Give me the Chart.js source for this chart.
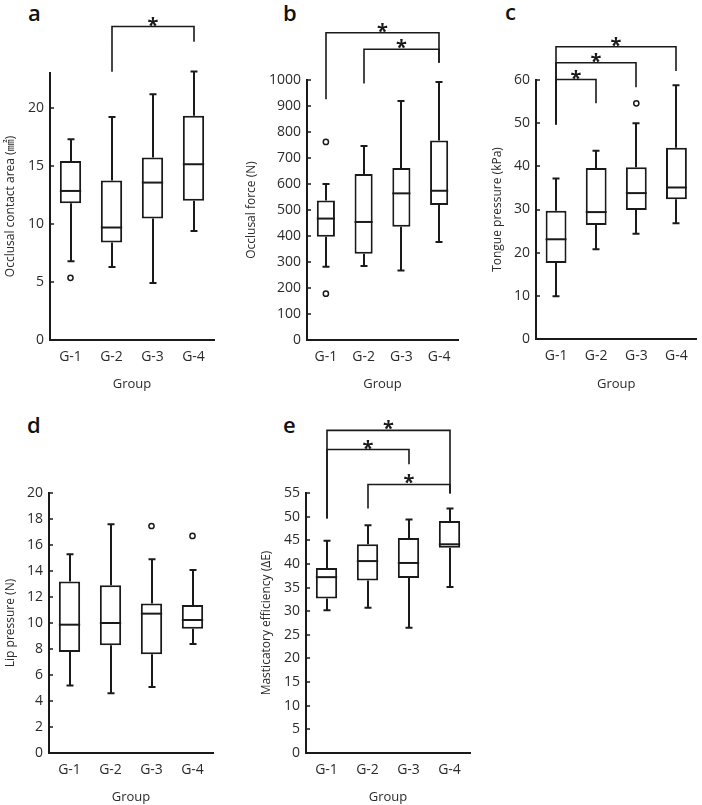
<!DOCTYPE html>
<html>
<head>
<meta charset="utf-8">
<script src="https://cdn.jsdelivr.net/npm/chart.js@4.4.1/dist/chart.umd.min.js"></script>
<style>
  body { margin: 0; background: #fff; width: 702px; height: 805px; position: relative; overflow: hidden; font-family: 'Open Sans', sans-serif; }
  canvas { position: absolute; }
  .lbl { position: absolute; font-size: 22px; font-weight: 600; line-height: 22px; color: #111; }
</style>
</head>
<body>
<div class="lbl" style="left:28px;top:1px">a</div>
<div class="lbl" style="left:283px;top:1px">b</div>
<div class="lbl" style="left:505px;top:0px">c</div>
<div class="lbl" style="left:27px;top:413px">d</div>
<div class="lbl" style="left:283px;top:413px">e</div>

<canvas id="chartA" width="233" height="395" style="left:0;top:0"></canvas>
<canvas id="chartB" width="232" height="395" style="left:233px;top:0"></canvas>
<canvas id="chartC" width="237" height="395" style="left:465px;top:0"></canvas>
<canvas id="chartD" width="233" height="405" style="left:0;top:400px"></canvas>
<canvas id="chartE" width="247" height="405" style="left:233px;top:400px"></canvas>

<script>
const groups = ['G-1', 'G-2', 'G-3', 'G-4'];

// per group: [min, q1, median, q3, max]
const contactArea = [[6.78, 11.77, 12.84, 15.43, 17.3], [6.29, 8.39, 9.69, 13.73, 19.2], [4.9, 10.47, 13.56, 15.72, 21.17], [9.4, 12.0, 15.14, 19.32, 23.13]];
const occlusalForce = [[282, 397, 467, 537, 600], [285, 332, 454, 638, 746], [267, 436, 564, 662, 919], [377, 519, 574, 767, 992]];
const tonguePressure = [[9.9, 17.6, 23.1, 29.7, 37.2], [20.8, 26.4, 29.4, 39.6, 43.6], [24.4, 29.9, 33.8, 39.8, 50.0], [26.8, 32.4, 35.1, 44.3, 58.8]];
const lipPressure = [[5.2, 7.77, 9.87, 13.2, 15.28], [4.6, 8.28, 10.0, 12.9, 17.6], [5.08, 7.59, 10.72, 11.5, 14.9], [8.38, 9.56, 10.23, 11.38, 14.08]];
const masticatory = [[30.2, 32.7, 37.2, 39.15, 44.9], [30.7, 36.5, 40.6, 44.15, 48.2], [26.5, 37.0, 40.2, 45.5, 49.4], [35.1, 43.4, 44.15, 49.1, 51.7]];

// outliers: [group index, value]
const contactOutliers = [[0, 5.36]];
const forceOutliers = [[0, 762], [0, 178]];
const tongueOutliers = [[2, 54.6]];
const lipOutliers = [[2, 17.46], [3, 16.7]];
const masticOutliers = [];

// significance: [from group, to group, bar level, left leg end, right leg end]
const contactSig = [[1, 3, 27.0, 23.1, 25.7]];
const forceSig = [[0, 3, 1182, 926, 1066], [1, 3, 1118, 987, 1066]];
const tongueSig = [[0, 1, 60.1, 49.7, 54.6], [0, 2, 64.0, 49.7, 58.3], [0, 3, 67.7, 49.7, 62.1]];
const lipSig = [];
const masticSig = [[0, 3, 68.25, 49.6, 54.9], [0, 2, 64.2, 49.6, 61.1], [1, 3, 56.8, 51.7, 54.9]];

const ink = '#1a1a1a';
const textColor = '#2b2b2b';
Chart.defaults.font.family = "'Open Sans', 'Noto Sans CJK JP', sans-serif";

function boxChart(id, stats, outliers, sig, o) {
  const parts = {
    id: 'boxParts',
    beforeDatasetsDraw(chart) {
      const y = chart.scales.y;
      const ctx = chart.ctx;
      ctx.save();
      ctx.strokeStyle = ink;
      ctx.lineWidth = 2;
      chart.getDatasetMeta(0).data.forEach((bar, i) => {
        const s = stats[i];
        const cx = Math.round(bar.x);
        ctx.beginPath();
        ctx.moveTo(cx, y.getPixelForValue(s[3]));
        ctx.lineTo(cx, y.getPixelForValue(s[4]));
        ctx.moveTo(cx, y.getPixelForValue(s[1]));
        ctx.lineTo(cx, y.getPixelForValue(s[0]));
        ctx.moveTo(cx - 3.5, y.getPixelForValue(s[4]));
        ctx.lineTo(cx + 3.5, y.getPixelForValue(s[4]));
        ctx.moveTo(cx - 3.5, y.getPixelForValue(s[0]));
        ctx.lineTo(cx + 3.5, y.getPixelForValue(s[0]));
        ctx.stroke();
      });
      ctx.restore();
    },
    afterDatasetsDraw(chart) {
      const x = chart.scales.x, y = chart.scales.y;
      const ctx = chart.ctx;
      ctx.save();
      ctx.strokeStyle = ink;
      // medians
      ctx.lineWidth = 2;
      chart.getDatasetMeta(0).data.forEach((bar, i) => {
        const py = y.getPixelForValue(stats[i][2]);
        ctx.beginPath();
        ctx.moveTo(bar.x - bar.width / 2, py);
        ctx.lineTo(bar.x + bar.width / 2, py);
        ctx.stroke();
      });
      // inward tick marks
      ctx.lineWidth = 1.5;
      y.ticks.forEach(t => {
        const py = Math.round(y.getPixelForValue(t.value));
        ctx.beginPath();
        ctx.moveTo(chart.chartArea.left, py);
        ctx.lineTo(chart.chartArea.left + 4, py);
        ctx.stroke();
      });
      // significance brackets
      ctx.lineWidth = 1.6;
      ctx.fillStyle = ink;
      ctx.font = "bold 20px 'Open Sans', sans-serif";
      ctx.textAlign = 'center';
      ctx.textBaseline = 'alphabetic';
      sig.forEach(b => {
        const x1 = Math.round(x.getPixelForValue(b[0]));
        const x2 = Math.round(x.getPixelForValue(b[1]));
        const top = y.getPixelForValue(b[2]);
        ctx.beginPath();
        ctx.moveTo(x1, y.getPixelForValue(b[3]));
        ctx.lineTo(x1, top);
        ctx.lineTo(x2, top);
        ctx.lineTo(x2, y.getPixelForValue(b[4]));
        ctx.stroke();
        ctx.fillText('*', (x1 + x2) / 2, top + 5);
      });
      ctx.restore();
    }
  };

  return new Chart(document.getElementById(id), {
    type: 'bar',
    data: {
      labels: groups,
      datasets: [{
        data: stats.map(s => [s[1], s[3]]),
        backgroundColor: '#fff',
        borderColor: ink,
        borderWidth: 2,
        borderSkipped: false,
        barPercentage: o.barPct,
        categoryPercentage: 1
      }, {
        type: 'line',
        showLine: false,
        data: outliers.map(p => ({ x: groups[p[0]], y: p[1] })),
        pointRadius: 2.6,
        pointBorderWidth: 1.5,
        pointBorderColor: ink,
        pointBackgroundColor: '#fff'
      }]
    },
    options: {
      responsive: false,
      animation: false,
      layout: { padding: { top: o.top, right: o.right, left: 0, bottom: 0 } },
      plugins: { legend: { display: false }, tooltip: { enabled: false } },
      scales: {
        x: {
          offset: true,
          grid: { display: false, drawTicks: false },
          border: { color: ink, width: 2 },
          ticks: { color: textColor, font: { size: 14 }, padding: 9 },
          title: { display: true, text: 'Group', color: textColor, font: { size: 13 }, padding: { top: 0, bottom: o.gb } },
          afterFit: s => { s.height = o.bottom; }
        },
        y: {
          min: 0,
          max: o.max,
          ticks: { stepSize: o.step, color: textColor, font: { size: 14 }, padding: 6, callback: v => String(v) },
          afterBuildTicks: s => {
            s.ticks = s.ticks.filter(t => Math.abs(t.value / o.step - Math.round(t.value / o.step)) < 1e-6);
          },
          grid: { display: false, drawTicks: false },
          border: { color: ink, width: 2 },
          title: { display: true, text: o.title, color: textColor, font: { size: 12 }, padding: { top: o.tp, bottom: 0 } },
          afterFit: s => { s.width = o.left; }
        }
      }
    },
    plugins: [parts]
  });
}

boxChart('chartA', contactArea, contactOutliers, contactSig,
  { title: 'Occlusal contact area (㎟)', max: 23, step: 5, left: 50, right: 19, top: 73, bottom: 55, tp: 3, gb: 3, barPct: 0.52 });
boxChart('chartB', occlusalForce, forceOutliers, forceSig,
  { title: 'Occlusal force (N)', max: 1000, step: 100, left: 74, right: 7, top: 80, bottom: 55, tp: 11, gb: 3, barPct: 0.48 });
boxChart('chartC', tonguePressure, tongueOutliers, tongueSig,
  { title: 'Tongue pressure (kPa)', max: 60, step: 10, left: 71, right: 2, top: 80, bottom: 56, tp: 25, gb: 3, barPct: 0.52 });
boxChart('chartD', lipPressure, lipOutliers, lipSig,
  { title: 'Lip pressure (N)', max: 20, step: 2, left: 49, right: 20, top: 93, bottom: 52, tp: 3, gb: 0, barPct: 0.52 });
boxChart('chartE', masticatory, masticOutliers, masticSig,
  { title: 'Masticatory efficiency (ΔE)', max: 55, step: 5, left: 73, right: 10, top: 93, bottom: 52, tp: 26, gb: 0, barPct: 0.52 });
</script>
</body>
</html>
